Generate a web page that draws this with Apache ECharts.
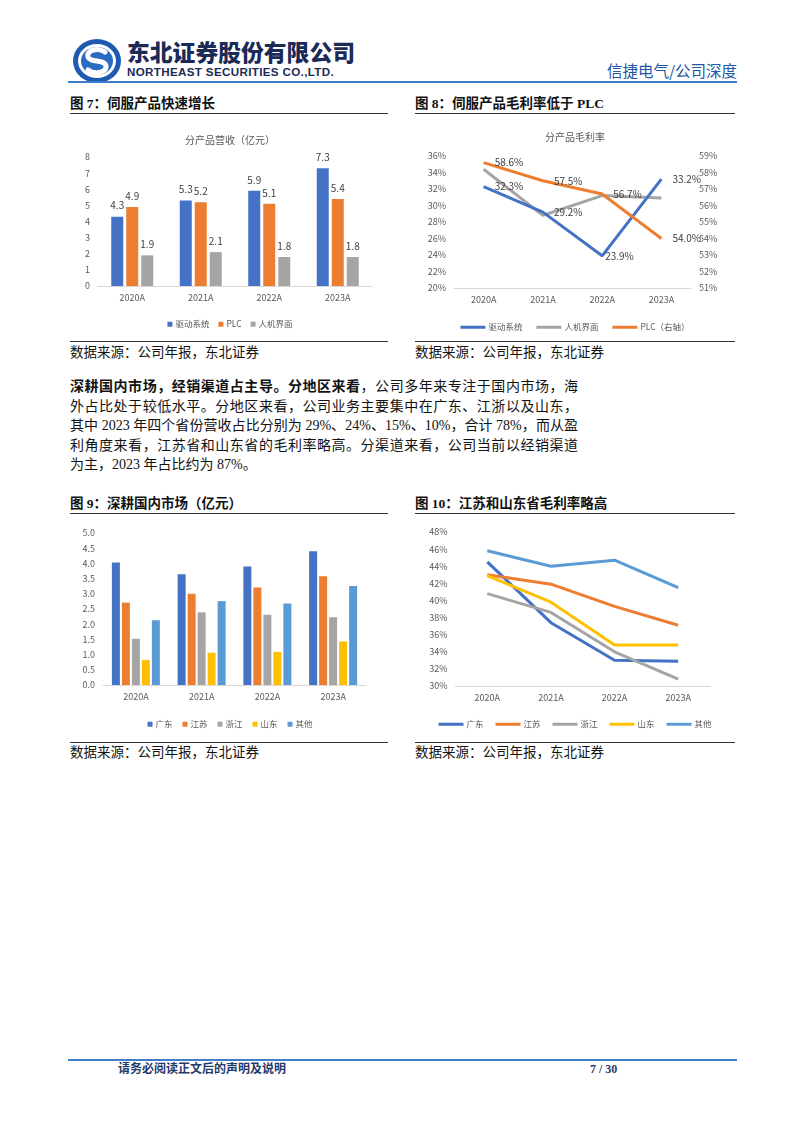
<!DOCTYPE html>
<html>
<head>
<meta charset="utf-8">
<script src="https://cdn.jsdelivr.net/npm/echarts@6/dist/echarts.min.js"></script>
<style>
  html,body{margin:0;padding:0;background:#fff;}
  #page{position:relative;width:802px;height:1133px;overflow:hidden;background:#fff;
        font-family:"Liberation Serif","Noto Sans CJK SC",serif;color:#111;}
  .abs{position:absolute;}
  .figt{position:absolute;font-size:13.5px;font-weight:bold;line-height:16px;white-space:nowrap;}
  .rule{position:absolute;height:1.5px;background:#333;}
  .src{position:absolute;font-size:13.5px;line-height:16px;white-space:nowrap;color:#111;}
  .para{position:absolute;left:70px;width:508px;font-size:14px;line-height:19.5px;}
  .para div{text-align:justify;text-align-last:justify;white-space:nowrap;height:19.5px;}
  .para div.last{text-align-last:left;}
  .chart{position:absolute;}
</style>
</head>
<body>
<div id="page">
  <!-- header -->
  <svg class="abs" style="left:72px;top:38px" width="50" height="46" viewBox="0 0 50 46">
    <ellipse cx="25" cy="23" rx="24" ry="22" fill="#1E5BB0"/>
    <ellipse cx="25" cy="23" rx="19" ry="17" fill="#fff"/>
    <ellipse cx="25" cy="23" rx="16" ry="14" fill="#2A6CC4"/>
    <path d="M33 14 C 26 9, 14 12, 16 19 C 18 25, 33 21, 34 28 C 35 35, 22 37, 16 32" fill="none" stroke="#fff" stroke-width="5" stroke-linecap="round"/>
  </svg>
  <div class="abs" style="left:127px;top:39px;font-family:'Noto Sans CJK SC';font-weight:900;font-size:22.8px;line-height:26px;color:#1B2A57;letter-spacing:0px;white-space:nowrap;">东北证券股份有限公司</div>
  <div class="abs" style="left:127px;top:65px;font-family:'Liberation Sans';font-weight:bold;font-size:11.6px;line-height:14px;color:#1B2A57;letter-spacing:0.35px;white-space:nowrap;">NORTHEAST SECURITIES CO.,LTD.</div>
  <div class="abs" style="right:65px;top:60px;font-family:'Noto Sans CJK SC';font-size:15.5px;line-height:20px;color:#2356A6;white-space:nowrap;">信捷电气/公司深度</div>
  <div class="abs" style="left:68px;top:81px;width:669px;height:2px;background:#3F7DCB;"></div>

  <!-- figure 7 / 8 -->
  <div class="figt" style="left:70px;top:96px;">图 7：伺服产品快速增长</div>
  <div class="rule" style="left:70px;top:112.5px;width:318px;"></div>
  <div class="figt" style="left:415px;top:96px;">图 8：伺服产品毛利率低于 PLC</div>
  <div class="rule" style="left:415px;top:112.5px;width:320px;"></div>
  <div id="c7" class="chart" style="left:65px;top:115px;width:330px;height:220px;"></div>
  <div id="c8" class="chart" style="left:410px;top:115px;width:330px;height:220px;"></div>
  <div class="rule" style="left:70px;top:341px;width:318px;height:1px;"></div>
  <div class="rule" style="left:415px;top:341px;width:320px;height:1px;"></div>
  <div class="src" style="left:70px;top:345px;">数据来源：公司年报，东北证券</div>
  <div class="src" style="left:415px;top:345px;">数据来源：公司年报，东北证券</div>

  <!-- paragraph -->
  <div class="para" style="top:377px;">
    <div><b>深耕国内市场，经销渠道占主导。分地区来看</b>，公司多年来专注于国内市场，海</div>
    <div>外占比处于较低水平。分地区来看，公司业务主要集中在广东、江浙以及山东，</div>
    <div>其中 2023 年四个省份营收占比分别为 29%、24%、15%、10%，合计 78%，而从盈</div>
    <div>利角度来看，江苏省和山东省的毛利率略高。分渠道来看，公司当前以经销渠道</div>
    <div class="last">为主，2023 年占比约为 87%。</div>
  </div>

  <!-- figure 9 / 10 -->
  <div class="figt" style="left:70px;top:496px;">图 9：深耕国内市场（亿元）</div>
  <div class="rule" style="left:70px;top:512.5px;width:318px;"></div>
  <div class="figt" style="left:415px;top:496px;">图 10：江苏和山东省毛利率略高</div>
  <div class="rule" style="left:415px;top:512.5px;width:320px;"></div>
  <div id="c9" class="chart" style="left:65px;top:515px;width:330px;height:222px;"></div>
  <div id="c10" class="chart" style="left:410px;top:515px;width:330px;height:222px;"></div>
  <div class="rule" style="left:70px;top:742px;width:318px;height:1px;"></div>
  <div class="rule" style="left:415px;top:742px;width:320px;height:1px;"></div>
  <div class="src" style="left:70px;top:745px;">数据来源：公司年报，东北证券</div>
  <div class="src" style="left:415px;top:745px;">数据来源：公司年报，东北证券</div>

  <!-- footer -->
  <div class="abs" style="left:68px;top:1059px;width:669px;height:1.5px;background:#3F7DCB;"></div>
  <div class="abs" style="left:118px;top:1062px;font-size:12px;font-weight:bold;line-height:15px;color:#1F3A6B;white-space:nowrap;">请务必阅读正文后的声明及说明</div>
  <div class="abs" style="left:590px;top:1062px;font-size:12px;font-weight:bold;line-height:15px;color:#1F3A6B;white-space:nowrap;">7 / 30</div>
</div>

<script>
// ---------- data ----------
const years = ['2020A', '2021A', '2022A', '2023A'];

// Fig 7: revenue by product (亿元)
const rev_drive = [4.3, 5.3, 5.9, 7.3];
const rev_plc   = [4.9, 5.2, 5.1, 5.4];
const rev_hmi   = [1.9, 2.1, 1.8, 1.8];

// Fig 8: gross margin by product (%)
const gm_drive = [32.3, 29.2, 23.9, 33.2];
const gm_hmi   = [34.4, 28.8, 31.2, 30.9];
const gm_plc   = [58.6, 57.5, 56.7, 54.0];

// Fig 9: revenue by region (亿元)
const reg_gd = [4.03, 3.64, 3.90, 4.40];
const reg_js = [2.71, 3.00, 3.21, 3.58];
const reg_zj = [1.52, 2.39, 2.31, 2.23];
const reg_sd = [0.82, 1.06, 1.09, 1.43];
const reg_qt = [2.13, 2.76, 2.68, 3.26];

// Fig 10: gross margin by region (%)
const gmr_gd = [44.5, 37.4, 33.0, 32.9];
const gmr_js = [43.0, 41.9, 39.3, 37.1];
const gmr_zj = [40.8, 38.6, 34.0, 30.8];
const gmr_sd = [42.9, 39.8, 34.8, 34.8];
const gmr_qt = [45.8, 44.0, 44.7, 41.5];

// ---------- styling ----------
const C_BLUE = '#4472C4', C_ORANGE = '#ED7D31', C_GRAY = '#A5A5A5', C_YELLOW = '#FFC000', C_LBLUE = '#5B9BD5';
const FONT = 'Noto Sans CJK SC';
const TXT = '#595959';

function catAxis(margin) {
  return {
    type: 'category', data: years,
    axisLine: { lineStyle: { color: '#D9D9D9', width: 1 } },
    axisTick: { show: false },
    axisLabel: { color: TXT, fontSize: 9, fontFamily: FONT, margin: margin }
  };
}
function valAxis(min, max, interval, fmt, extra) {
  return Object.assign({
    type: 'value', min: min, max: max, interval: interval,
    splitLine: { show: false }, axisLine: { show: false }, axisTick: { show: false },
    axisLabel: { color: TXT, fontSize: 9, fontFamily: FONT, margin: 8, formatter: fmt }
  }, extra || {});
}

// ---------- Fig 7 ----------
const c7 = echarts.init(document.getElementById('c7'));
function bar7(name, data, color) {
  return { name: name, type: 'bar', data: data, barWidth: 12, barGap: '25%',
    itemStyle: { color: color },
    label: { show: true, position: 'top', distance: 6, color: '#404040', fontSize: 10, fontFamily: FONT,
      formatter: p => Number(p.value).toFixed(1) } };
}
c7.setOption({
  animation: false,
  title: { text: '分产品营收（亿元）', left: 'center', top: 15,
    textStyle: { fontSize: 10, color: TXT, fontWeight: 'normal', fontFamily: FONT } },
  grid: { left: 33, right: 23, top: 42, bottom: 49 },
  legend: { top: 200, left: 'center', itemWidth: 5, itemHeight: 5, itemGap: 9, icon: 'rect',
    textStyle: { fontSize: 8.5, color: TXT, fontFamily: FONT, padding: [0, 0, 0, -2] } },
  xAxis: catAxis(7),
  yAxis: valAxis(0, 8, 1, '{value}'),
  series: [bar7('驱动系统', rev_drive, C_BLUE), bar7('PLC', rev_plc, C_ORANGE), bar7('人机界面', rev_hmi, C_GRAY)]
});

// ---------- Fig 8 ----------
const c8 = echarts.init(document.getElementById('c8'));
const lbl8 = { show: true, position: 'right', distance: 11, color: '#404040', fontSize: 10, fontFamily: FONT,
  formatter: p => Number(p.value).toFixed(1) + '%' };
c8.setOption({
  animation: false,
  title: { text: '分产品毛利率', left: 'center', top: 12,
    textStyle: { fontSize: 10, color: TXT, fontWeight: 'normal', fontFamily: FONT } },
  grid: { left: 44, right: 49, top: 41, bottom: 47 },
  legend: { top: 203, left: 'center', itemWidth: 25, itemHeight: 3, itemGap: 14, icon: 'rect',
    data: ['驱动系统', '人机界面', 'PLC（右轴）'],
    textStyle: { fontSize: 8.5, color: TXT, fontFamily: FONT, padding: [0, 0, 0, -2] } },
  xAxis: catAxis(7),
  yAxis: [
    valAxis(20, 36, 2, '{value}%'),
    valAxis(51, 59, 1, '{value}%', { position: 'right' })
  ],
  series: [
    { name: '人机界面', type: 'line', data: gm_hmi, symbol: 'none', lineStyle: { width: 3, color: C_GRAY }, itemStyle: { color: C_GRAY } },
    { name: '驱动系统', type: 'line', data: gm_drive.map((v, i) => i === 2 ? { value: v, label: { distance: 3 } } : v),
      symbol: 'circle', symbolSize: 0.01, showSymbol: true, lineStyle: { width: 3, color: C_BLUE }, itemStyle: { color: C_BLUE }, label: lbl8 },
    { name: 'PLC（右轴）', type: 'line', yAxisIndex: 1, data: gm_plc, symbol: 'circle', symbolSize: 0.01, showSymbol: true,
      lineStyle: { width: 3, color: C_ORANGE }, itemStyle: { color: C_ORANGE }, label: lbl8 }
  ]
});

// ---------- Fig 9 ----------
const c9 = echarts.init(document.getElementById('c9'));
function bar9(name, data, color) {
  return { name: name, type: 'bar', data: data, barWidth: 8, barGap: '25%', itemStyle: { color: color } };
}
c9.setOption({
  animation: false,
  grid: { left: 38, right: 29, top: 18, bottom: 52 },
  legend: { top: 200, left: 'center', itemWidth: 5, itemHeight: 5, itemGap: 10, icon: 'rect',
    textStyle: { fontSize: 8.5, color: TXT, fontFamily: FONT, padding: [0, 0, 0, -2] } },
  xAxis: catAxis(7),
  yAxis: valAxis(0, 5, 0.5, v => v.toFixed(1)),
  series: [bar9('广东', reg_gd, C_BLUE), bar9('江苏', reg_js, C_ORANGE), bar9('浙江', reg_zj, C_GRAY),
           bar9('山东', reg_sd, C_YELLOW), bar9('其他', reg_qt, C_LBLUE)]
});

// ---------- Fig 10 ----------
const c10 = echarts.init(document.getElementById('c10'));
function line10(name, data, color) {
  return { name: name, type: 'line', data: data, symbol: 'none',
    lineStyle: { width: 3, color: color }, itemStyle: { color: color } };
}
c10.setOption({
  animation: false,
  grid: { left: 45.5, right: 30, top: 17, bottom: 51 },
  legend: { top: 200, left: 'center', itemWidth: 25, itemHeight: 3, itemGap: 12, icon: 'rect',
    textStyle: { fontSize: 8.5, color: TXT, fontFamily: FONT, padding: [0, 0, 0, -2] } },
  xAxis: catAxis(7),
  yAxis: valAxis(30, 48, 2, '{value}%'),
  series: [line10('广东', gmr_gd, C_BLUE), line10('江苏', gmr_js, C_ORANGE), line10('浙江', gmr_zj, C_GRAY),
           line10('山东', gmr_sd, C_YELLOW), line10('其他', gmr_qt, C_LBLUE)]
});
</script>
</body>
</html>
